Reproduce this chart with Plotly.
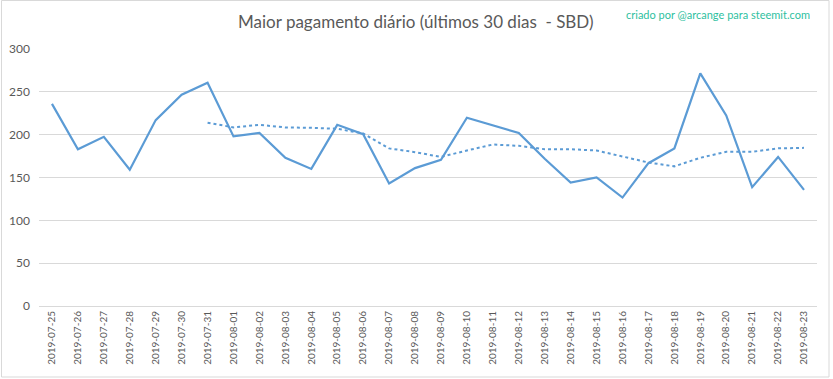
import plotly.graph_objects as go

dates = ["2019-07-25","2019-07-26","2019-07-27","2019-07-28","2019-07-29","2019-07-30","2019-07-31",
         "2019-08-01","2019-08-02","2019-08-03","2019-08-04","2019-08-05","2019-08-06","2019-08-07",
         "2019-08-08","2019-08-09","2019-08-10","2019-08-11","2019-08-12","2019-08-13","2019-08-14",
         "2019-08-15","2019-08-16","2019-08-17","2019-08-18","2019-08-19","2019-08-20","2019-08-21",
         "2019-08-22","2019-08-23"]
payout = [236, 183, 197.5, 159, 217, 246.6, 260.6,
          198, 202, 173, 160, 211.5, 200.6, 143,
          161, 170.6, 219.7, 210.8, 202, 171.8, 144,
          150, 126.6, 166.7, 183.9, 271.5, 222.4, 138.7,
          174, 135.6]
trend_dates = dates[6:]
trend = [214, 208.5, 211.5, 208.4, 208, 206.9, 201.4, 184,
         179.6, 174, 181.5, 188.5, 187, 183, 183, 181.5,
         174.5, 167.5, 163, 173, 180, 180, 184, 184.6]

title_text = "Maior pagamento diário (últimos 30 dias  - SBD)"
credit_text = "criado por @arcange para steemit.com"

blue = "#5B9BD5"
grey = "#595959"
fam = "Lato, Open Sans, sans-serif"

fig = go.Figure()
fig.add_trace(go.Scatter(x=dates, y=payout, mode="lines",
                         line=dict(color=blue, width=2.2), showlegend=False))
fig.add_trace(go.Scatter(x=trend_dates, y=trend, mode="lines",
                         line=dict(color=blue, width=2, dash="dot"), showlegend=False))

fig.update_layout(
    width=833, height=379,
    margin=dict(l=39, r=16, t=49, b=73, autoexpand=False),
    paper_bgcolor="white", plot_bgcolor="white",
    font=dict(family=fam, color=grey),
    xaxis=dict(type="category", range=[-0.5, 29.5], tickangle=-90, automargin=False,
               tickfont=dict(size=10, color=grey), showgrid=False,
               showline=True, linecolor="#d9d9d9", linewidth=1, ticks="", zeroline=False),
    yaxis=dict(range=[0, 300], dtick=50, tickfont=dict(size=12, color=grey), automargin=False,
               gridcolor="#d9d9d9", gridwidth=1, zeroline=False, showline=False,
               ticks="", ticklabelstandoff=8),
    annotations=[
        dict(text=title_text, xref="paper", yref="paper",
             x=(415 - 39) / 778, y=(306 - 22) / 257, xanchor="center", yanchor="middle",
             showarrow=False, font=dict(size=17, color=grey, family=fam)),
        dict(text=credit_text, xref="paper", yref="paper",
             x=(812 - 39) / 778, y=(306 - 14) / 257, xanchor="right", yanchor="middle",
             showarrow=False, font=dict(size=11, color="#2EBFA0", family=fam)),
    ],
    shapes=[dict(type="rect", xref="paper", yref="paper",
                 x0=(1.5 - 39) / 778, x1=(829 - 39) / 778,
                 y0=(306 - 377) / 257, y1=(306 - 0.5) / 257,
                 line=dict(color="#d9d9d9", width=1), layer="below")],
)

fig.write_html("out.html", config={"displayModeBar": False},
               post_script="document.body.style.margin='0';document.body.style.padding='0';")
